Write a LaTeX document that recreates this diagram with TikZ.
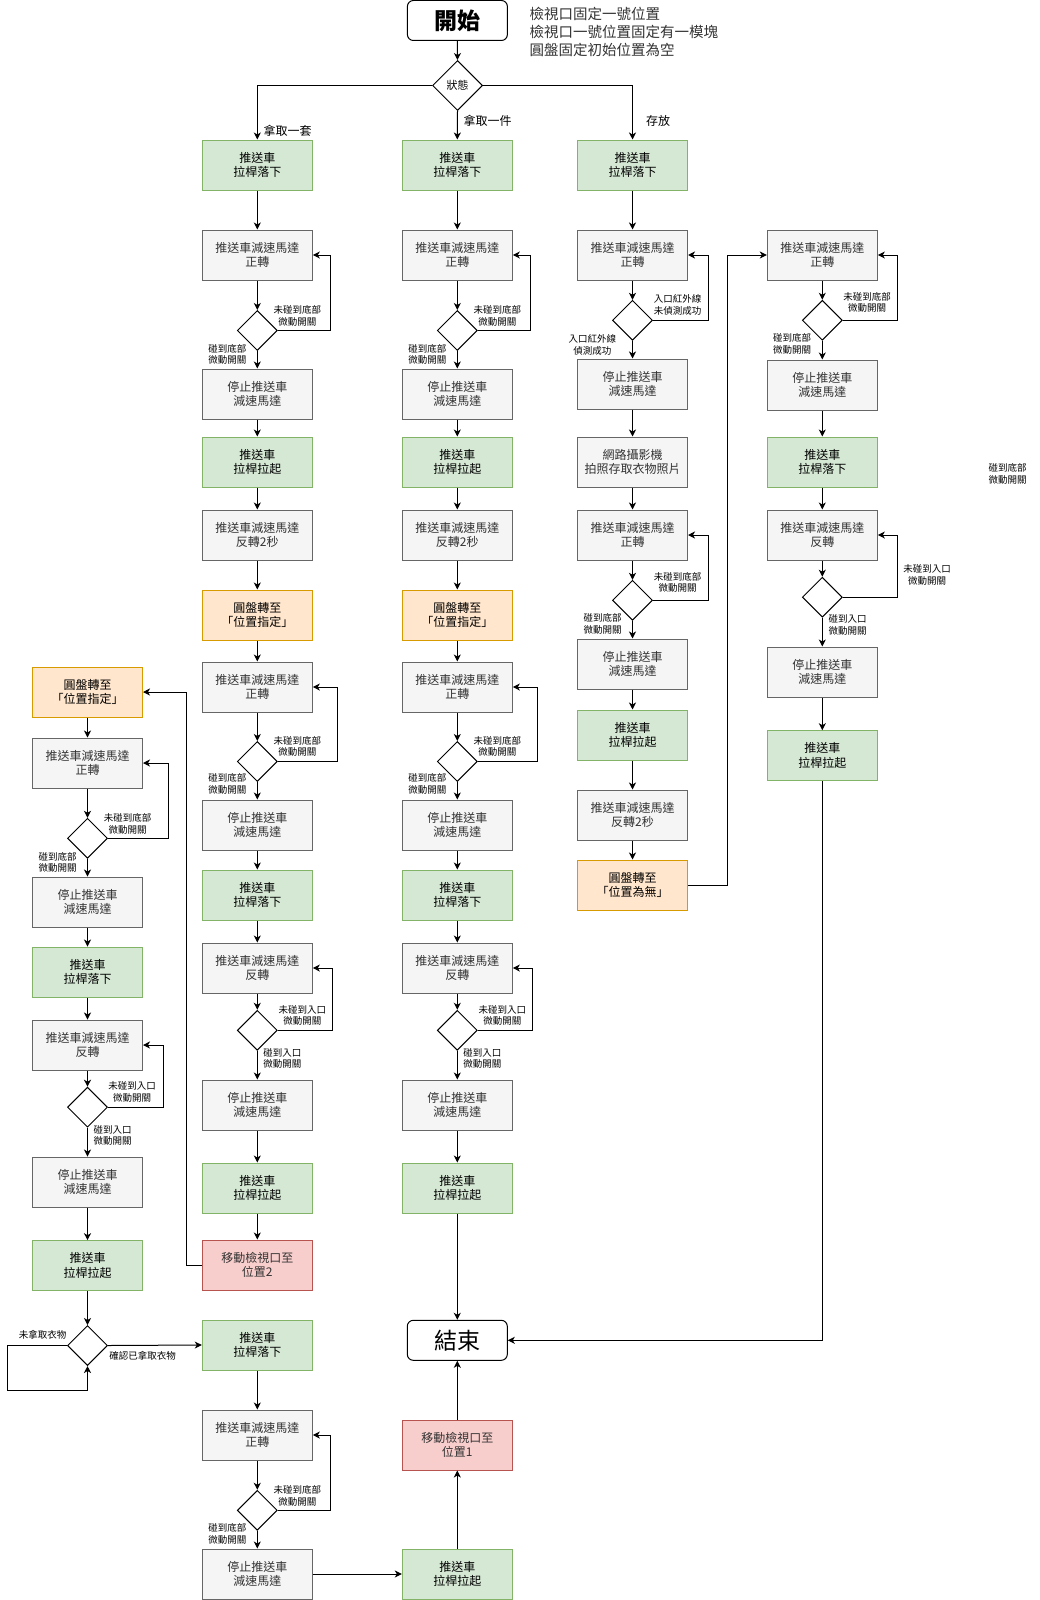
\documentclass[tikz,border=0pt]{standalone}
\usepackage{fontspec}
\setmainfont{Noto Sans CJK TC}
\usetikzlibrary{shapes.geometric,arrows.meta}
\definecolor{gfill}{HTML}{D5E8D4}
\definecolor{gline}{HTML}{82B366}
\definecolor{ofill}{HTML}{FFE6CC}
\definecolor{oline}{HTML}{D79B00}
\definecolor{rfill}{HTML}{F8CECC}
\definecolor{rline}{HTML}{B85450}
\definecolor{kfill}{HTML}{F5F5F5}
\definecolor{kline}{HTML}{666666}
\definecolor{ktext}{HTML}{333333}
\begin{document}
\begin{tikzpicture}[x=1pt,y=-1pt,
  box/.style={draw, line width=1pt, minimum width=110pt, minimum height=50pt, inner sep=0pt, align=center, font=\fontsize{12}{14.5}\selectfont},
  gbox/.style={box, fill=gfill, draw=gline},
  kbox/.style={box, fill=kfill, draw=kline, text=ktext},
  obox/.style={box, fill=ofill, draw=oline},
  rbox/.style={box, fill=rfill, draw=rline, text=ktext},
  term/.style={draw, line width=1pt, rounded corners=6pt, minimum width=100pt, minimum height=40pt, inner sep=0pt},
  dia/.style={draw, diamond, line width=1pt, minimum width=40pt, minimum height=40pt, inner sep=0pt, fill=white},
  lbl/.style={align=center, inner sep=0pt, font=\fontsize{9.5}{11.7}\selectfont},
  elbl/.style={inner sep=0pt, font=\fontsize{12}{14}\selectfont},
  arr/.style={line width=1pt, -{Stealth[length=7pt,width=7pt,inset=2pt]}}
]
\fill[white] (0,0) rectangle (1039,1600);
\useasboundingbox (0,0) rectangle (1039,1600);

% start / state
\node[term, font=\bfseries\fontsize{23}{26}\selectfont] (start) at (457.4,20.5) {開始};
\node[anchor=west, align=left, inner sep=0pt, font=\fontsize{14.5}{18}\selectfont, text=ktext] (note) at (529.3,32.3) {檢視口固定一號位置\\檢視口一號位置固定有一模塊\\圓盤固定初始位置為空};
\node[dia, minimum width=50pt, minimum height=50pt, font=\fontsize{11}{13}\selectfont] (st) at (457.5,85.5) {狀態};
\draw[arr] (start) -- (st);

% columns 1 and 2
\foreach \c/\X in {1/257.3, 2/457.3}{
  \node[gbox] (ga\c) at (\X,165) {推送車\\拉桿落下};
  \node[kbox] (ba\c) at (\X,255) {推送車減速馬達\\正轉};
  \node[dia]  (da\c) at (\X,330.5) {};
  \node[kbox] (sa\c) at (\X,394) {停止推送車\\減速馬達};
  \node[gbox] (gb\c) at (\X,462) {推送車\\拉桿拉起};
  \node[kbox] (bb\c) at (\X,535) {推送車減速馬達\\反轉2秒};
  \node[obox] (o\c)  at (\X,615) {圓盤轉至\\「位置指定」};
  \node[kbox] (bc\c) at (\X,687) {推送車減速馬達\\正轉};
  \node[dia]  (db\c) at (\X,761.5) {};
  \node[kbox] (sb\c) at (\X,825) {停止推送車\\減速馬達};
  \node[gbox] (gc\c) at (\X,895) {推送車\\拉桿落下};
  \node[kbox] (bd\c) at (\X,968) {推送車減速馬達\\反轉};
  \node[dia]  (dc\c) at (\X,1030.3) {};
  \node[kbox] (sc\c) at (\X,1105) {停止推送車\\減速馬達};
  \node[gbox] (gd\c) at (\X,1188) {推送車\\拉桿拉起};
  \node[lbl] (lar\c) at (\X+40,316) {未碰到底部\\微動開關};
  \node[lbl] (lal\c) at (\X-30,354.3) {碰到底部\\微動開關};
  \node[lbl] (lbr\c) at (\X+40,746.3) {未碰到底部\\微動開關};
  \node[lbl] (lbl\c) at (\X-30,784) {碰到底部\\微動開關};
  \node[lbl] (lcr\c) at (\X+45,1015.5) {未碰到入口\\微動開關};
  \node[lbl] (lcl\c) at (\X+25,1058.3) {碰到入口\\微動開關};
  \draw[arr] (ga\c) -- (ba\c);
  \draw[arr] (ba\c) -- (da\c);
  \draw[arr] (da\c) -- (sa\c);
  \draw[arr] (da\c.east) -- ++(53,0) |- (ba\c.east);
  \draw[arr] (sa\c) -- (gb\c);
  \draw[arr] (gb\c) -- (bb\c);
  \draw[arr] (bb\c) -- (o\c);
  \draw[arr] (o\c) -- (bc\c);
  \draw[arr] (bc\c) -- (db\c);
  \draw[arr] (db\c) -- (sb\c);
  \draw[arr] (db\c.east) -- ++(60,0) |- (bc\c.east);
  \draw[arr] (sb\c) -- (gc\c);
  \draw[arr] (gc\c) -- (bd\c);
  \draw[arr] (bd\c) -- (dc\c);
  \draw[arr] (dc\c) -- (sc\c);
  \draw[arr] (dc\c.east) -- ++(55,0) |- (bd\c.east);
  \draw[arr] (sc\c) -- (gd\c);
}

% state branches
\draw[arr] (st.west) -| (ga1.north);
\draw[arr] (st.south) -- (ga2.north);
\node[elbl, anchor=west] (e1) at (263.3,131) {拿取一套};
\node[elbl, anchor=west] (e2) at (463.3,121) {拿取一件};
\node[elbl, anchor=west] (e3) at (646,121) {存放};

% column 1 bottom part
\node[rbox] (r1) at (257.3,1265) {移動檢視口至\\位置2};
\node[gbox] (ge1) at (257.3,1345) {推送車\\拉桿落下};
\node[kbox] (be1) at (257.3,1435) {推送車減速馬達\\正轉};
\node[dia]  (dd1) at (257.3,1510.3) {};
\node[kbox] (sd1) at (257.3,1574) {停止推送車\\減速馬達};
\node[lbl] (ldr1) at (297.3,1495.9) {未碰到底部\\微動開關};
\node[lbl] (ldl1) at (227.3,1534) {碰到底部\\微動開關};

% column 2 bottom part
\node[term, font=\fontsize{23}{26}\selectfont] (end) at (457.3,1340.3) {結束};
\node[rbox] (r2) at (457.3,1445) {移動檢視口至\\位置1};
\node[gbox] (ge2) at (457.3,1574) {推送車\\拉桿拉起};

% column 0
\node[obox] (o0)  at (87.5,692) {圓盤轉至\\「位置指定」};
\node[kbox] (b0a) at (87.5,763) {推送車減速馬達\\正轉};
\node[dia]  (d0a) at (87.5,838.3) {};
\node[kbox] (s0a) at (87.5,902) {停止推送車\\減速馬達};
\node[gbox] (g0a) at (87.5,972) {推送車\\拉桿落下};
\node[kbox] (b0b) at (87.5,1045) {推送車減速馬達\\反轉};
\node[dia]  (d0b) at (87.5,1107.2) {};
\node[kbox] (s0b) at (87.5,1182) {停止推送車\\減速馬達};
\node[gbox] (g0b) at (87.5,1265.7) {推送車\\拉桿拉起};
\node[dia]  (d0c) at (87.5,1345.5) {};
\node[lbl] (l0ar) at (127.5,823.8) {未碰到底部\\微動開關};
\node[lbl] (l0al) at (57.5,862.5) {碰到底部\\微動開關};
\node[lbl] (l0br) at (132,1092) {未碰到入口\\微動開關};
\node[lbl] (l0bl) at (112.5,1135.5) {碰到入口\\微動開關};
\node[lbl] (l0cl) at (42.5,1335) {未拿取衣物};
\node[lbl] (l0cr) at (142.5,1355.7) {確認已拿取衣物};
\coordinate (lp) at (7.3,1390);

% column 3
\node[gbox] (g3a) at (632.5,165) {推送車\\拉桿落下};
\node[kbox] (b3a) at (632.5,255) {推送車減速馬達\\正轉};
\node[dia]  (d3a) at (632.5,320.3) {};
\node[kbox] (s3a) at (632.5,384) {停止推送車\\減速馬達};
\node[kbox] (c3)  at (632.5,462) {網路攝影機\\拍照存取衣物照片};
\node[kbox] (b3b) at (632.5,535) {推送車減速馬達\\正轉};
\node[dia]  (d3b) at (632.5,600.3) {};
\node[kbox] (s3b) at (632.5,664) {停止推送車\\減速馬達};
\node[gbox] (g3b) at (632.5,735) {推送車\\拉桿拉起};
\node[kbox] (b3c) at (632.5,815) {推送車減速馬達\\反轉2秒};
\node[obox] (o3)  at (632.5,885) {圓盤轉至\\「位置為無」};
\node[lbl] (l3ar) at (677.5,305) {入口紅外線\\未偵測成功};
\node[lbl] (l3al) at (592.3,345) {入口紅外線\\偵測成功};
\node[lbl] (l3br) at (677.7,582.5) {未碰到底部\\微動開關};
\node[lbl] (l3bl) at (602.5,624) {碰到底部\\微動開關};

% column 4
\node[kbox] (b4a) at (822.3,255) {推送車減速馬達\\正轉};
\node[dia]  (d4a) at (822.3,320.3) {};
\node[kbox] (s4a) at (822.3,385) {停止推送車\\減速馬達};
\node[gbox] (g4a) at (822.3,462) {推送車\\拉桿落下};
\node[kbox] (b4b) at (822.3,535) {推送車減速馬達\\反轉};
\node[dia]  (d4b) at (822.3,597.2) {};
\node[kbox] (s4b) at (822.3,672) {停止推送車\\減速馬達};
\node[gbox] (g4b) at (822.3,755.7) {推送車\\拉桿拉起};
\node[lbl] (l4ar) at (867,302.5) {未碰到底部\\微動開關};
\node[lbl] (l4al) at (792,344) {碰到底部\\微動開關};
\node[lbl] (l4br) at (927,575) {未碰到入口\\微動開關};
\node[lbl] (l4bl) at (847.5,625) {碰到入口\\微動開關};
\node[lbl] (lstray) at (1007.5,474) {碰到底部\\微動開關};

\draw[arr] (st.east) -| (g3a.north);

% column 1 bottom connectors
\draw[arr] (gd1) -- (r1);
\draw[arr] (r1.west) -- ++(-15,0) |- (o0.east);
\draw[arr] (ge1) -- (be1);
\draw[arr] (be1) -- (dd1);
\draw[arr] (dd1) -- (sd1);
\draw[arr] (dd1.east) -- ++(53,0) |- (be1.east);
\draw[arr] (sd1) -- (ge2);
\draw[arr] (ge2) -- (r2);
\draw[arr] (r2) -- (end);
\draw[arr] (gd2) -- (end);

% column 0 connectors
\draw[arr] (o0) -- (b0a);
\draw[arr] (b0a) -- (d0a);
\draw[arr] (d0a) -- (s0a);
\draw[arr] (d0a.east) -- ++(60,0) |- (b0a.east);
\draw[arr] (s0a) -- (g0a);
\draw[arr] (g0a) -- (b0b);
\draw[arr] (b0b) -- (d0b);
\draw[arr] (d0b) -- (s0b);
\draw[arr] (d0b.east) -- ++(55,0) |- (b0b.east);
\draw[arr] (s0b) -- (g0b);
\draw[arr] (g0b) -- (d0c);
\draw[arr] (d0c.west) -| (lp) -| (d0c.south);
\draw[arr] (d0c.east) -- (ge1.west);

% column 3 connectors
\draw[arr] (g3a) -- (b3a);
\draw[arr] (b3a) -- (d3a);
\draw[arr] (d3a) -- (s3a);
\draw[arr] (d3a.east) -- ++(55,0) |- (b3a.east);
\draw[arr] (s3a) -- (c3);
\draw[arr] (c3) -- (b3b);
\draw[arr] (b3b) -- (d3b);
\draw[arr] (d3b) -- (s3b);
\draw[arr] (d3b.east) -- ++(55,0) |- (b3b.east);
\draw[arr] (s3b) -- (g3b);
\draw[arr] (g3b) -- (b3c);
\draw[arr] (b3c) -- (o3);
\draw[arr] (o3.east) -- ++(39.6,0) |- (b4a.west);

% column 4 connectors
\draw[arr] (b4a) -- (d4a);
\draw[arr] (d4a) -- (s4a);
\draw[arr] (d4a.east) -- ++(55,0) |- (b4a.east);
\draw[arr] (s4a) -- (g4a);
\draw[arr] (g4a) -- (b4b);
\draw[arr] (b4b) -- (d4b);
\draw[arr] (d4b) -- (s4b);
\draw[arr] (d4b.east) -- ++(55,0) |- (b4b.east);
\draw[arr] (s4b) -- (g4b);
\draw[arr] (g4b.south) |- (end.east);
\end{tikzpicture}
\end{document}
